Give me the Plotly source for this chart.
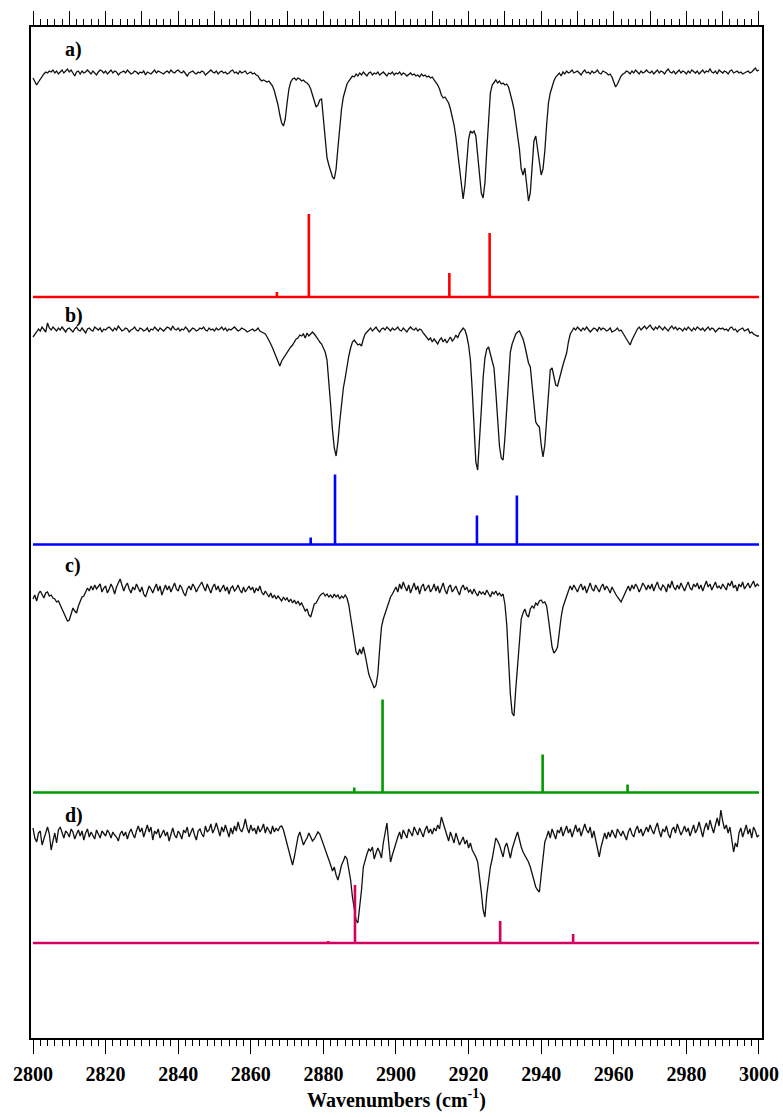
import plotly.graph_objects as go

# ---------------- data ----------------
WN_START = 2800.0
WN_STEP = 0.5

# experimental spectra (relative intensity, baseline = 0), 2800..3000 cm-1 every 0.5
SPEC_A = [
    -5, -9, -12, -9, -6, -3, -1, 1, 0, 2, 1, 3, 0, 2, -1, 1, 3, 0, 2, 4,
    1, 3, 0, -3, 1, 2, -1, 2, 0, 1, 3, 1, -1, 2, 0, -2, 1, 3, 2, 0,
    2, -1, 1, 3, 0, 2, 1, -2, 0, 1, 2, 0, 3, 1, -1, 0, 2, 1, -1, 1,
    0, 2, -2, 1, 0, -1, 1, 3, 0, 2, 1, 0, -1, 1, 2, 0, 3, 1, 0, 2,
    3, 1, 0, 2, -1, -3, 0, 1, 2, 0, -1, 1, 0, 2, 1, -2, 0, 1, 3, 1,
    0, 2, -1, 1, 2, 0, 1, -1, 0, 2, 3, 0, 1, -1, 2, 0, 1, 2, -1, 0,
    1, -1, 0, -2, -3, -6, -8, -7, -8, -9, -8, -10, -13, -18, -24, -32, -42, -50, -53, -46,
    -30, -16, -9, -6, -5, -7, -5, -6, -8, -7, -9, -10, -12, -16, -22, -29, -34, -32, -27, -26,
    -45, -72, -85, -92, -98, -104, -106, -96, -75, -52, -36, -24, -16, -11, -8, -5, -3, -4, -1, -3,
    0, -2, 1, -1, -3, 0, 1, -2, 0, -1, 1, -2, 0, 1, -1, -3, 0, -1, 1, -2,
    0, -1, 1, -2, 0, -1, -3, -1, 0, -2, -1, -3, -2, -4, -1, -3, -2, -4, -3, -5,
    -4, -7, -9, -12, -16, -22, -25, -24, -27, -30, -36, -44, -52, -64, -78, -95, -110, -126, -112, -85,
    -66, -58, -60, -58, -63, -82, -105, -120, -125, -110, -78, -45, -20, -12, -9, -7, -10, -8, -11, -10,
    -12, -11, -14, -20, -28, -36, -48, -60, -76, -96, -102, -95, -110, -128, -120, -92, -68, -63, -75, -92,
    -102, -96, -78, -52, -30, -20, -13, -8, -4, -2, 0, -3, 1, -1, 2, 0, 1, 3, 0, 1,
    2, 0, -2, 1, 3, 0, 1, -1, 2, 0, 1, 3, 0, -1, 2, 1, 0, -2, -1, -4,
    -9, -14, -11, -6, -3, -1, 0, 2, 1, -1, 2, 0, 3, 1, -1, 2, 0, 1, 3, 1,
    0, 2, -1, 1, 3, 0, 2, 1, -1, 2, 4, 1, 0, 2, -1, 1, 3, 0, 2, 1,
    -1, 2, 0, 3, 1, 0, 2, -1, 1, 3, 0, 2, 1, 4, 1, 0, 2, -1, 3, 1,
    0, 2, 1, -1, 2, 3, 0, 1, 2, 0, 1, -1, 0, 1, 2, 0, 1, 3, 5, 2,
    3,
]

SPEC_B = [
    -7, -5, -2, 1, -1, 3, 0, -2, 7, 2, 0, 3, 1, -1, 2, 0, 3, 1, -2, 1,
    2, 0, -2, 1, 3, 0, -1, 2, 0, -3, 1, 2, 0, -1, 3, 1, 0, 2, -2, 1,
    0, 2, 3, 1, -1, 2, 0, 4, 1, -1, 0, 2, 1, -2, 0, 1, 3, 0, -1, 2,
    1, -1, 0, 2, -2, 1, 0, 3, 1, -1, 2, 0, -1, 1, 3, 2, 0, 4, 1, 0,
    2, -1, 1, 0, 3, 1, -2, 0, 2, 1, -1, 0, 2, 1, 3, 0, -1, 2, 0, 1,
    -1, 2, 0, 1, 3, 0, 2, -1, 1, 0, 2, 3, 1, -1, 0, 2, 1, 0, -2, -1,
    0, 1, -1, 0, 2, -1, -2, -3, -4, -7, -10, -14, -18, -23, -28, -33, -36, -31, -28, -25,
    -22, -20, -17, -15, -12, -9, -8, -5, -6, -4, -8, -3, -6, -4, -2, -4, -6, -9, -12, -14,
    -18, -22, -30, -50, -75, -100, -118, -126, -112, -92, -72, -58, -48, -35, -26, -18, -12, -10, -13, -15,
    -14, -16, -9, -4, -2, 0, 2, -1, 1, 3, 0, -2, 1, 2, 0, 3, 1, -1, 2, 0,
    1, 3, 0, -1, 2, 0, -2, 1, 3, 1, 0, 2, -1, 1, 0, -3, -5, -7, -10, -8,
    -12, -9, -11, -14, -10, -8, -12, -9, -13, -10, -7, -11, -9, -5, -8, -3, -1, 2, 0, -6,
    -15, -30, -60, -100, -132, -140, -115, -80, -48, -28, -19, -17, -24, -30, -38, -62, -92, -116, -128, -130,
    -108, -75, -45, -22, -14, -8, -4, -2, -1, -5, -9, -16, -25, -33, -37, -55, -78, -92, -95, -97,
    -115, -127, -115, -90, -60, -40, -38, -45, -55, -56, -50, -42, -35, -30, -23, -12, -4, -1, 2, 0,
    3, 1, -1, 2, 0, 3, 1, -2, 0, 2, 1, -1, 3, 0, 2, 1, -1, 0, 2, -2,
    -1, 0, 2, -1, 0, -3, -6, -10, -13, -15, -10, -6, -2, 1, 3, 0, 2, 4, 1, 3,
    5, 2, 0, 3, 1, 4, 2, 0, 3, 1, -1, 2, 4, 1, 3, 0, 2, 1, -1, 2,
    0, 3, 1, -1, 2, 0, 3, 1, 0, 2, -1, 1, 3, 0, 2, 1, -2, 0, 2, 1,
    2, 0, 1, -1, 2, 3, 0, 1, -2, 0, 1, 2, -1, 0, 1, -3, -2, -4, -5, -6,
    -6,
]

SPEC_C = [
    -10, -6, -12, -5, -2, -6, -9, -4, -3, -7, -6, -9, -10, -13, -12, -16, -20, -25, -28, -32,
    -31, -24, -19, -22, -24, -17, -12, -8, -7, -3, 1, -2, 3, -1, 4, 0, 2, 5, -3, 1,
    3, -4, 0, 5, 1, -5, 2, 7, 10, 4, -2, 3, 6, 0, -4, 2, -1, 5, 1, -3,
    2, -5, -8, -2, 3, 0, -4, 1, 5, -2, 3, -6, 0, 4, -1, 3, -3, 2, 6, 0,
    -2, 4, 1, -4, -7, 0, 3, -1, 5, 2, -3, 1, 4, 7, 2, -2, 5, 0, -4, 2,
    5, -1, 3, -3, 0, 4, -2, 2, -5, 1, 3, -2, 0, 4, -1, -4, 2, -3, 0, 3,
    -1, 2, -4, 1, -2, 3, -3, -6, -2, -5, -8, -4, -9, -6, -10, -7, -9, -12, -8, -11,
    -9, -13, -10, -14, -11, -15, -12, -16, -14, -18, -22, -20, -26, -28, -21, -15, -14, -10, -7, -5,
    -4, -7, -5, -8, -6, -9, -5, -8, -6, -10, -7, -9, -6, -9, -16, -28, -40, -55, -63, -66,
    -60, -65, -58, -66, -75, -85, -90, -95, -99, -96, -85, -60, -38, -30, -24, -18, -12, -8, -5, -2,
    2, -3, 5, 0, 7, 2, -2, 4, -4, 1, 6, -1, 3, -5, 2, 5, -2, 1, 4, -3,
    0, 5, -2, 3, -4, 1, 6, -1, -5, 2, 4, -3, 0, 3, -2, -6, 1, 4, -1, 2,
    -3, -1, -5, 0, -4, -7, -2, -5, -3, -6, -1, -4, -8, -3, -5, -2, -6, -4, -7, -5,
    -15, -35, -75, -105, -124, -127, -100, -75, -45, -30, -24, -20, -26, -28, -20, -17, -19, -14, -16, -12,
    -11, -14, -13, -17, -30, -46, -58, -64, -62, -58, -40, -28, -18, -12, -6, -2, 3, -1, 4, 0,
    -3, 2, 5, -1, 3, -4, 1, 6, 0, -2, 4, 1, -3, 2, 5, -1, 3, 0, -4, 2,
    -2, -5, -8, -11, -13, -9, -5, -1, 3, -2, 4, 0, 5, 2, -3, 1, 6, 3, -1, 4,
    0, 5, -2, 3, 7, 1, -1, 4, 2, -3, 5, 1, 8, 2, -1, 4, 0, 6, 2, -2,
    3, 7, 1, -1, 5, 2, 6, 0, 4, -2, 3, 8, 2, 5, -1, 4, 7, 1, 3, 0,
    5, 2, -1, 6, 3, 8, 1, 4, -2, 5, 2, 7, 0, 3, 6, 1, 4, 8, 2, 5,
    3,
]

SPEC_D = [
    7, -3, -7, 2, 4, -10, -4, 3, 8, 1, -15, -6, 2, -8, 5, 8, 1, -3, 4, 2,
    -2, 6, 3, -4, 1, 5, -1, 4, -5, 2, 6, -2, 3, 0, -4, 5, 1, -3, 4, 2,
    -1, 5, 2, -3, 3, 0, -2, -6, 1, 4, -1, 3, -4, 2, 6, 1, -3, 4, 9, 3,
    7, -2, 5, 10, 3, 8, -5, 4, 1, 6, -3, 2, 5, -1, 3, -6, 2, 7, 0, -3,
    4, 1, -4, 5, 2, 8, -2, 3, 7, 0, -5, 4, 6, 1, -2, 9, 3, 5, 11, 2,
    6, 12, 4, -1, 8, 3, 10, 5, -2, 7, 1, 9, 4, 13, 6, 3, 8, 16, 7, 2,
    10, 4, 7, 1, 9, 3, 6, 11, 2, 8, 5, 1, 9, 3, 7, 4, 8, 9, 5, -2,
    -8, -16, -24, -30, -22, -12, -2, 3, -4, -10, -6, -3, 2, -2, -6, -4, -1, 3, 1, -4,
    -9, -15, -18, -24, -30, -36, -32, -40, -45, -38, -30, -26, -21, -24, -34, -45, -62, -74, -85, -88,
    -72, -55, -32, -24, -19, -14, -16, -12, -24, -18, -13, -17, -23, -8, 4, 12, -8, -27, -20, -14,
    -6, -2, 3, -4, 5, 1, -3, 6, 2, -1, 8, 4, 0, 7, 3, -2, 5, 9, 2, 6,
    1, 7, 4, 10, 6, 18, 12, 5, 0, -6, 3, -4, -8, 2, -3, -10, -6, -2, -9, -5,
    -13, -8, -15, -18, -22, -27, -40, -57, -75, -82, -60, -45, -32, -24, -12, -3, -6, -10, -16, -22,
    -12, -8, -15, -23, -14, -7, -2, 3, -6, -12, -17, -20, -23, -27, -32, -38, -45, -52, -55, -57,
    -40, -20, -7, -2, 4, -3, 6, 1, -4, 5, 2, 8, -1, 4, 9, 2, 6, -2, 5, 10,
    3, 7, -1, 4, 11, 5, 2, 8, -3, 4, -6, -14, -22, -12, -5, 2, -4, 3, -2, 5,
    1, -3, 6, 2, -1, 4, 0, -5, 3, 7, 1, -2, 5, 9, 2, 6, -1, 4, 8, 3,
    10, 5, 1, 7, 12, 4, -2, 6, 3, 9, 1, -3, 5, 8, 2, 11, 6, 0, 4, 9,
    3, 7, -1, 5, 10, 2, 6, 13, 4, -2, 7, 12, 5, 15, 8, 2, 10, 17, 9, 25,
    14, 6, 10, 2, 8, -3, -17, -8, -12, 2, 7, -2, 5, 10, 1, 6, -3, 8, 4, -2,
    0,
]

# calculated (stick) spectra: wavenumber and intensity
STICK_A_WN = [2867.2, 2876.0, 2914.7, 2925.8]
STICK_A_I = [5, 83, 24, 64]
STICK_B_WN = [2876.5, 2883.2, 2922.3, 2933.3]
STICK_B_I = [7, 70, 29, 49]
STICK_C_WN = [2888.5, 2896.3, 2940.4, 2963.8]
STICK_C_I = [5, 93, 38, 8]
STICK_D_WN = [2881.3, 2888.7, 2928.7, 2948.8]
STICK_D_I = [2, 58, 22, 9]

PANEL_LABELS = ["a)", "b)", "c)", "d)"]
X_TICKS = [2800, 2820, 2840, 2860, 2880, 2900, 2920, 2940, 2960, 2980, 3000]

# ---------------- styling / layout ----------------
SPEC_OFFSETS = [965, 708, 449, 203]
STICK_OFFSETS = [741, 493.5, 245.5, 95]
LABEL_Y = [989, 723, 473, 223]
STICK_COLORS = ["#ff0000", "#0000ff", "#009a00", "#d4005f"]
FONT = "Liberation Serif"

specs = [SPEC_A, SPEC_B, SPEC_C, SPEC_D]
sticks = [(STICK_A_WN, STICK_A_I), (STICK_B_WN, STICK_B_I),
          (STICK_C_WN, STICK_C_I), (STICK_D_WN, STICK_D_I)]

fig = go.Figure()

for spec, off in zip(specs, SPEC_OFFSETS):
    wn = [WN_START + i * WN_STEP for i in range(len(spec))]
    fig.add_trace(go.Scatter(
        x=wn, y=[v + off for v in spec], mode="lines",
        line=dict(color="#111111", width=1.3), hoverinfo="skip"))

for (swn, sint), off, col in zip(sticks, STICK_OFFSETS, STICK_COLORS):
    xs = [X_TICKS[0]]
    ys = [off]
    for w, h in zip(swn, sint):
        xs += [w, w, w]
        ys += [off, off + h, off]
    xs.append(X_TICKS[-1])
    ys.append(off)
    fig.add_trace(go.Scatter(x=xs, y=ys, mode="lines",
                             line=dict(color=col, width=2.6), hoverinfo="skip"))

# dummy trace for the top axis
fig.add_trace(go.Scatter(x=[X_TICKS[0]], y=[0], xaxis="x2", mode="markers",
                         marker=dict(opacity=0), hoverinfo="skip"))

for lab, ly in zip(PANEL_LABELS, LABEL_Y):
    fig.add_annotation(x=2808.2, y=ly, xref="x", yref="y", text=lab,
                       showarrow=False, xanchor="left", yanchor="middle",
                       font=dict(family=FONT, size=20, color="black", weight="bold"))

XR = [2799.45, 3000.83]
fig.update_layout(
    width=783, height=1117,
    margin=dict(l=31, r=21, t=27, b=79, autoexpand=False),
    plot_bgcolor="white", paper_bgcolor="white",
    showlegend=False,
    xaxis=dict(
        range=XR, tickmode="array", tickvals=X_TICKS,
        ticktext=[str(t) for t in X_TICKS],
        ticks="outside", ticklen=14, tickwidth=1.3, tickcolor="black",
        showline=True, linecolor="black", linewidth=1.5, mirror=False,
        showgrid=False, zeroline=False, automargin=False,
        ticklabelstandoff=3,
        tickfont=dict(family=FONT, size=20, color="black", weight="bold"),
        minor=dict(ticks="outside", tick0=2800, dtick=2, ticklen=6,
                   tickwidth=1, tickcolor="black", showgrid=False),
        title=dict(text="Wavenumbers (cm<sup>-1</sup>)", standoff=9,
                   font=dict(family=FONT, size=20, color="black", weight="bold")),
    ),
    xaxis2=dict(
        range=XR, overlaying="x", side="top", matches="x",
        tickmode="linear", tick0=2800, dtick=10, automargin=False,
        ticks="outside", ticklen=14, tickwidth=1.3, tickcolor="black",
        showticklabels=False, showline=True, linecolor="black", linewidth=1.5,
        showgrid=False, zeroline=False,
        minor=dict(ticks="outside", tick0=2800, dtick=2, ticklen=6,
                   tickwidth=1, tickcolor="black", showgrid=False),
    ),
    yaxis=dict(
        range=[0, 1011], showline=True, linecolor="black", linewidth=1.5,
        mirror=True, ticks="", showticklabels=False, showgrid=False,
        zeroline=False, automargin=False,
    ),
)

fig.write_html(
    "out.html",
    config={"displayModeBar": False},
    post_script="document.body.style.margin='0';document.body.style.padding='0';"
                "document.body.style.overflow='hidden';",
)
